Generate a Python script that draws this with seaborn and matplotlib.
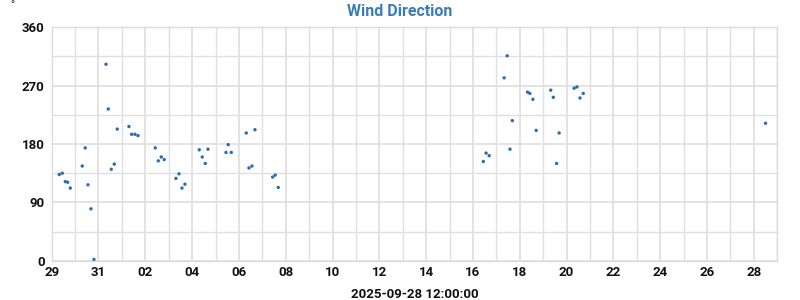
import matplotlib
matplotlib.use("Agg")
import matplotlib.pyplot as plt
import matplotlib.dates as mdates
import seaborn as sns
import pandas as pd

times = [
    "2025-08-29 07:48", "2025-08-29 10:52", "2025-08-29 13:56", "2025-08-29 16:23", "2025-08-29 19:05",
    "2025-08-30 07:22", "2025-08-30 10:26", "2025-08-30 13:13", "2025-08-30 16:18", "2025-08-30 19:22",
    "2025-08-31 07:41", "2025-08-31 10:02", "2025-08-31 13:06", "2025-08-31 16:11", "2025-08-31 19:15",
    "2025-09-01 07:12", "2025-09-01 10:00", "2025-09-01 13:24", "2025-09-01 16:28",
    "2025-09-02 10:12", "2025-09-02 13:18", "2025-09-02 16:22", "2025-09-02 19:26",
    "2025-09-03 07:26", "2025-09-03 10:30", "2025-09-03 13:35", "2025-09-03 16:39",
    "2025-09-04 07:19", "2025-09-04 10:24", "2025-09-04 13:28", "2025-09-04 16:15",
    "2025-09-05 10:42", "2025-09-05 13:03", "2025-09-05 16:08",
    "2025-09-06 07:31", "2025-09-06 10:16", "2025-09-06 13:21", "2025-09-06 16:25",
    "2025-09-07 10:34", "2025-09-07 13:12", "2025-09-07 16:19",
    "2025-09-16 10:34", "2025-09-16 13:26", "2025-09-16 16:34",
    "2025-09-17 07:55", "2025-09-17 11:02", "2025-09-17 13:55", "2025-09-17 16:19",
    "2025-09-18 07:55", "2025-09-18 10:19", "2025-09-18 13:26", "2025-09-18 16:48",
    "2025-09-19 07:41", "2025-09-19 10:19", "2025-09-19 13:41", "2025-09-19 16:19",
    "2025-09-20 07:41", "2025-09-20 10:34", "2025-09-20 13:41", "2025-09-20 17:02",
    "2025-09-28 12:00",
]
direction = [
    133, 135, 122, 121, 112,
    146, 174, 117, 80, 2,
    303, 234, 141, 149, 203,
    207, 195, 195, 193,
    174, 154, 160, 156,
    127, 134, 112, 118,
    171, 160, 150, 172,
    167, 179, 167,
    197, 143, 146, 202,
    129, 132, 113,
    153, 166, 162,
    282, 316, 172, 216,
    260, 258, 249, 201,
    263, 252, 150, 197,
    266, 268, 251, 258,
    212,
]

title = "Wind Direction"
xlabel = "2025-09-28 12:00:00"
unit = "°"

df = pd.DataFrame({"time": pd.to_datetime(times), "direction": direction})

sns.set_theme(style="white")
plt.rcParams["font.family"] = ["Roboto", "DejaVu Sans"]

fig = plt.figure(figsize=(8, 3), dpi=100)
ax = fig.add_axes([0.0646, 0.131, 0.9070, 0.778])

sns.scatterplot(data=df, x="time", y="direction", ax=ax, color="#2b6db1",
                s=6, marker="o", edgecolor="none", linewidth=0, zorder=3)

ax.set_xlim(pd.Timestamp("2025-08-29"), pd.Timestamp("2025-09-29"))
ax.set_ylim(0, 360)

major = pd.date_range("2025-08-29", "2025-09-28", freq="2D")
minor = pd.date_range("2025-08-29", "2025-09-29", freq="D")
ax.set_xticks(mdates.date2num(major))
ax.set_xticks(mdates.date2num(minor), minor=True)
ax.xaxis.set_major_formatter(mdates.DateFormatter("%d"))
ax.set_yticks([0, 90, 180, 270, 360])
ax.set_yticks(range(0, 361, 45), minor=True)

ax.grid(True, which="major", color="#e0e0e0", linewidth=1.3)
ax.grid(True, which="minor", color="#e0e0e0", linewidth=1.0)
ax.set_axisbelow(True)

ax.tick_params(axis="both", which="both", length=0)
ax.tick_params(axis="x", pad=4, labelsize=9.5)
ax.tick_params(axis="y", pad=5, labelsize=9.5)
for lab in ax.get_xticklabels() + ax.get_yticklabels():
    lab.set_fontweight("bold")
    lab.set_color("#111111")

for sp in ax.spines.values():
    sp.set_color("#dcdcdc")
    sp.set_linewidth(1.0)

ax.set_ylabel("")
ax.set_xlabel(xlabel, fontsize=9.5, fontweight="bold", color="#111111", labelpad=6)
fig.text(0.5, 0.96, title, fontsize=11.5, fontweight="bold", color="#3a7cb8",
         ha="center", va="center")
fig.text(0.015, 0.982, unit, fontsize=8, color="#222222", ha="center", va="center")

fig.savefig("out.png", dpi=100)
